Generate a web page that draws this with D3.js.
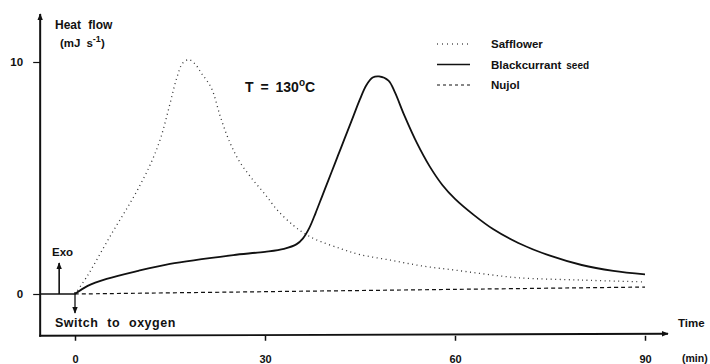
<!DOCTYPE html>
<html>
<head>
<meta charset="utf-8">
<script src="https://cdn.jsdelivr.net/npm/d3@7"></script>
<style>
  body { margin: 0; background: #fff; }
  svg { display: block; font-family: "Liberation Sans", Arial, sans-serif; font-weight: bold; }
</style>
</head>
<body>
<div id="chart"></div>
<script>
// Heat flow traces at T = 130 C (time in min, heat flow in mJ/s)
const safflowerTime = [0, 2, 4, 6, 8, 10, 12, 13.5, 15, 16, 17, 18, 19, 20, 21.5, 23, 24.5, 26, 28, 30, 32, 34.5, 36, 38, 42, 45, 50, 55, 60, 65, 70, 80, 90];
const safflowerFlow = [0, 0.8, 1.75, 2.7, 3.6, 4.55, 5.65, 6.7, 8.2, 9.25, 9.95, 10.1, 9.9, 9.5, 8.9, 7.6, 6.5, 5.7, 4.95, 4.3, 3.6, 2.95, 2.65, 2.35, 1.95, 1.7, 1.45, 1.2, 1.03, 0.85, 0.7, 0.6, 0.52];

const blackcurrantTime = [0, 2, 5, 10, 15, 20, 25, 30, 33, 35, 36, 37, 38, 39, 40, 41, 42, 43, 44, 45, 46, 47, 48, 49.5, 50.5, 52, 54, 56, 58, 60, 63, 66, 70, 75, 80, 85, 90];
const blackcurrantFlow = [0, 0.35, 0.65, 1.0, 1.3, 1.5, 1.68, 1.82, 1.95, 2.15, 2.4, 2.85, 3.5, 4.2, 4.9, 5.6, 6.3, 7.0, 7.7, 8.4, 9.0, 9.33, 9.38, 9.2, 8.7, 7.7, 6.5, 5.5, 4.7, 4.1, 3.4, 2.8, 2.2, 1.65, 1.25, 1.0, 0.85];

const nujolTime = [0, 30, 60, 90];
const nujolFlow = [0, 0.1, 0.2, 0.3];

// baseline before the switch to oxygen
const baseTime = [-5.5, 0];
const baseFlow = [0, 0];

const xTicks = [0, 30, 60, 90];
const yTicks = [0, 10];

const legendNames = ["Safflower", "Blackcurrant", "Nujol"];

const width = 710, height = 364;
const svg = d3.select("#chart").append("svg")
  .attr("width", width).attr("height", height);

const x = d3.scaleLinear().domain([0, 90]).range([75, 645]);
const y = d3.scaleLinear().domain([0, 10]).range([294, 62]);

const ink = "#111";
const xAxisY = y(-1.8);
const yAxisX = x(-5.5);

// arrow heads
const defs = svg.append("defs");
defs.append("marker")
  .attr("id", "arrow")
  .attr("viewBox", "0 0 10 10")
  .attr("refX", 9).attr("refY", 5)
  .attr("markerWidth", 7).attr("markerHeight", 7)
  .attr("markerUnits", "userSpaceOnUse")
  .attr("orient", "auto")
  .append("path").attr("d", "M0,1 L10,5 L0,9 Z").attr("fill", ink);

// X axis
const xAxis = svg.append("g")
  .attr("transform", `translate(0,${xAxisY})`)
  .call(d3.axisBottom(x).tickValues(xTicks).tickSize(5).tickFormat(d3.format("d")));
xAxis.select(".domain").remove();
xAxis.selectAll("line").attr("stroke", ink).attr("stroke-width", 1.5);
xAxis.selectAll("text").attr("y", 19).attr("font-size", 11).attr("fill", ink);

// Y axis
const yAxis = svg.append("g")
  .attr("transform", `translate(${yAxisX},0)`)
  .call(d3.axisLeft(y).tickValues(yTicks).tickSize(7).tickFormat(d3.format("d")));
yAxis.select(".domain").remove();
yAxis.selectAll("line").attr("stroke", ink).attr("stroke-width", 1.2);
yAxis.selectAll("text").attr("x", -17).attr("font-size", 11.5).attr("fill", ink);

// axis lines with arrows
svg.append("line")
  .attr("x1", yAxisX).attr("y1", xAxisY + 1)
  .attr("x2", yAxisX).attr("y2", 14)
  .attr("stroke", ink).attr("stroke-width", 2)
  .attr("marker-end", "url(#arrow)");
svg.append("line")
  .attr("x1", yAxisX - 1).attr("y1", xAxisY)
  .attr("x2", 668).attr("y2", xAxisY - 2)
  .attr("stroke", ink).attr("stroke-width", 1.8)
  .attr("marker-end", "url(#arrow)");

// curves
const line = d3.line()
  .x(d => x(d[0]))
  .y(d => y(d[1]))
  .curve(d3.curveCatmullRom.alpha(0.5));

const zip = (a, b) => a.map((t, i) => [t, b[i]]);

svg.append("path")
  .datum(zip(baseTime, baseFlow))
  .attr("d", line)
  .attr("fill", "none").attr("stroke", ink).attr("stroke-width", 1.3);

svg.append("path")
  .datum(zip(nujolTime, nujolFlow))
  .attr("d", line)
  .attr("fill", "none").attr("stroke", ink).attr("stroke-width", 1.2)
  .attr("stroke-dasharray", "4,3");

svg.append("path")
  .datum(zip(safflowerTime, safflowerFlow))
  .attr("d", line)
  .attr("fill", "none").attr("stroke", "#333").attr("stroke-width", 1.3)
  .attr("stroke-dasharray", "1,3.5");

svg.append("path")
  .datum(zip(blackcurrantTime, blackcurrantFlow))
  .attr("d", line)
  .attr("fill", "none").attr("stroke", ink).attr("stroke-width", 1.8);

// legend
const legendDash = ["1,4", null, "3,3"];
const legendWidth = [1.3, 1.6, 1.2];
const legend = svg.append("g");
legendNames.forEach((name, i) => {
  const ly = 44 + i * 20.5;
  legend.append("line")
    .attr("x1", 437).attr("x2", 470).attr("y1", ly).attr("y2", ly)
    .attr("stroke", i === 0 ? "#555" : ink).attr("stroke-width", legendWidth[i])
    .attr("stroke-dasharray", legendDash[i]);
  const t = legend.append("text")
    .attr("x", 491).attr("y", ly + 4)
    .attr("font-size", 11.5).attr("fill", ink)
    .text(name);
  if (i === 1) t.append("tspan").attr("dx", 5).attr("font-size", 10).text("seed");
});

// annotations
svg.append("text").attr("x", 55).attr("y", 29).attr("font-size", 12).attr("fill", ink)
  .attr("word-spacing", 4).text("Heat flow");
const unit = svg.append("text").attr("x", 60).attr("y", 47).attr("font-size", 11.5).attr("fill", ink);
unit.append("tspan").text("(mJ");
unit.append("tspan").attr("dx", 6).text("s");
unit.append("tspan").attr("dy", -5).attr("font-size", 9).text("-1");
unit.append("tspan").attr("dy", 5).text(")");

const temp = svg.append("text").attr("x", 245).attr("y", 92).attr("font-size", 14).attr("fill", ink)
  .attr("word-spacing", 3);
temp.append("tspan").text("T  =  130");
temp.append("tspan").attr("dy", -6).attr("font-size", 10).text("o");
temp.append("tspan").attr("dy", 6).text("C");

svg.append("text").attr("x", 52).attr("y", 256).attr("font-size", 11.5).attr("fill", ink).text("Exo");
svg.append("line")
  .attr("x1", x(-2.5)).attr("y1", y(0))
  .attr("x2", x(-2.5)).attr("y2", 263)
  .attr("stroke", ink).attr("stroke-width", 1.6)
  .attr("marker-end", "url(#arrow)");

svg.append("line")
  .attr("x1", x(0)).attr("y1", y(0) - 2)
  .attr("x2", x(0)).attr("y2", 313)
  .attr("stroke", ink).attr("stroke-width", 1.3)
  .attr("marker-end", "url(#arrow)");
svg.append("text").attr("x", 55).attr("y", 327).attr("font-size", 12.5).attr("fill", ink)
  .attr("word-spacing", 5).attr("letter-spacing", 0.5).text("Switch to oxygen");

svg.append("text").attr("x", 678).attr("y", 327).attr("font-size", 11.5).attr("fill", ink).text("Time");
svg.append("text").attr("x", 682).attr("y", 364 - 2).attr("font-size", 10.5).attr("fill", ink).text("(min)");
</script>
</body>
</html>
